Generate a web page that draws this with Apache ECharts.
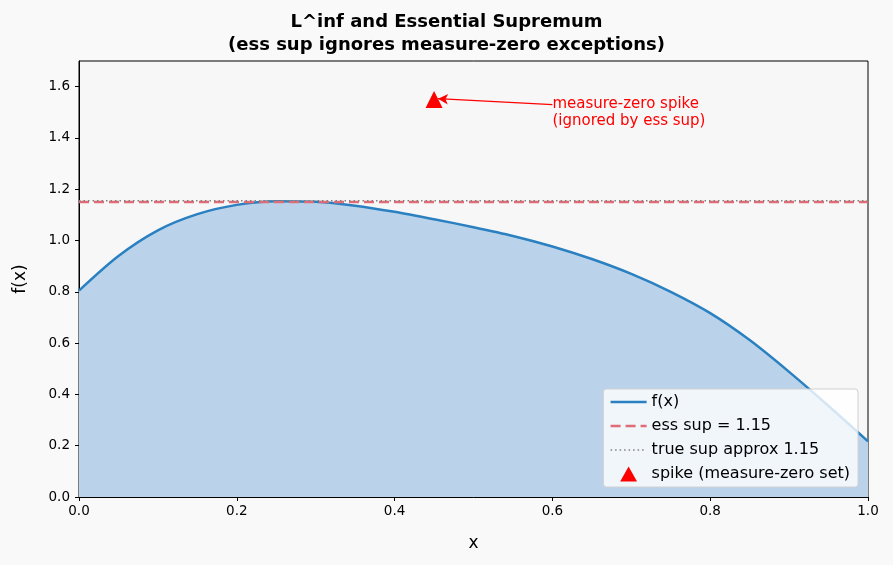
<!DOCTYPE html>
<html>
<head>
<meta charset="utf-8">
<script src="https://cdn.jsdelivr.net/npm/echarts@6/dist/echarts.min.js"></script>
<style>
  html, body { margin: 0; padding: 0; background: #f9f9f9; }
  #chart { width: 893px; height: 565px; }
</style>
</head>
<body>
<div id="chart"></div>
<script>
// values
const xs = [0, 0.05, 0.1, 0.15, 0.2, 0.25, 0.3, 0.35, 0.4, 0.45, 0.5,
            0.55, 0.6, 0.65, 0.7, 0.75, 0.8, 0.85, 0.9, 0.95, 1.0]
const fx = [0.805, 0.94, 1.04, 1.103, 1.139, 1.153, 1.151, 1.136, 1.112, 1.083, 1.052,
            1.018, 0.977, 0.928, 0.870, 0.800, 0.717, 0.612, 0.488, 0.355, 0.217]
const essSup = 1.15
const trueSup = 1.155
const spike = [0.45, 1.55]
const annoText = 'measure-zero spike\n(ignored by ess sup)'
const annoAt = [0.6, 1.5]
const arrowFrom = [0.6, 1.53]
const arrowTo = [0.455, 1.553]

const font = 'DejaVu Sans'
const chart = echarts.init(document.getElementById('chart'))

const option = {
  backgroundColor: '#f9f9f9',
  animation: false,
  textStyle: { fontFamily: font },
  title: {
    text: 'L^inf and Essential Supremum\n(ess sup ignores measure-zero exceptions)',
    left: 'center',
    top: 6,
    textStyle: { fontFamily: font, fontSize: 18, fontWeight: 'bold', color: '#000', lineHeight: 23 },
  },
  grid: {
    left: 79, right: 25, top: 61, bottom: 68,
    show: true, backgroundColor: '#f7f7f7', borderColor: '#000', borderWidth: 1,
  },
  legend: {
    orient: 'vertical',
    right: 35, bottom: 78,
    backgroundColor: 'rgba(255,255,255,0.8)',
    borderColor: '#d0d0d0', borderWidth: 1, borderRadius: 3,
    padding: [5, 8, 5, 6],
    itemGap: 8,
    itemWidth: 36, itemHeight: 15,
    textStyle: { fontFamily: font, fontSize: 16, color: '#000' },
    data: [
      { name: 'f(x)', itemStyle: { opacity: 0 }, lineStyle: { width: 2.5 } },
      { name: 'ess sup = 1.15', itemStyle: { opacity: 0 }, lineStyle: { width: 2.5 } },
      { name: 'true sup approx 1.15', itemStyle: { opacity: 0 }, lineStyle: { width: 1.4 } },
      { name: 'spike (measure-zero set)', icon: 'path://M0,16L9,0L18,16Z' },
    ],
  },
  xAxis: {
    type: 'value', min: 0, max: 1, interval: 0.2,
    name: 'x', nameLocation: 'middle', nameGap: 38,
    nameTextStyle: { fontFamily: font, fontSize: 17, color: '#000' },
    axisLine: { lineStyle: { color: '#000' } },
    axisTick: { show: true, length: 4, lineStyle: { color: '#000' } },
    axisLabel: { fontFamily: font, fontSize: 13.5, color: '#000', margin: 7, formatter: v => v.toFixed(1) },
    splitLine: { show: false },
  },
  yAxis: {
    type: 'value', min: 0, max: 1.7, interval: 0.2,
    name: 'f(x)', nameLocation: 'middle', nameGap: 50,
    nameTextStyle: { fontFamily: font, fontSize: 17, color: '#000' },
    axisLine: { show: true, lineStyle: { color: '#000' } },
    axisTick: { show: true, length: 4, lineStyle: { color: '#000' } },
    axisLabel: { fontFamily: font, fontSize: 13.5, color: '#000', margin: 9, showMaxLabel: false, formatter: v => v.toFixed(1) },
    splitLine: { show: false },
  },
  series: [
    {
      name: 'f(x)',
      type: 'line',
      smooth: 0.3,
      symbol: 'none',
      data: xs.map((x, i) => [x, fx[i]]),
      lineStyle: { color: '#2a80c0', width: 2.5 },
      itemStyle: { color: '#2a80c0' },
      areaStyle: { color: '#bad3ea', opacity: 1 },
      z: 2,
    },
    {
      name: 'ess sup = 1.15',
      type: 'line',
      symbol: 'none',
      data: [[0, essSup], [1, essSup]],
      lineStyle: { color: '#e16c76', width: 2.5, type: [10, 5] },
      itemStyle: { color: '#e16c76' },
      z: 3,
    },
    {
      name: 'true sup approx 1.15',
      type: 'line',
      symbol: 'none',
      data: [[0, trueSup], [1, trueSup]],
      lineStyle: { color: '#808080', width: 1.4, type: [1.5, 3] },
      itemStyle: { color: '#808080' },
      z: 4,
    },
    {
      name: 'spike (measure-zero set)',
      type: 'scatter',
      symbol: 'triangle',
      symbolSize: 17,
      data: [spike],
      itemStyle: { color: '#ff0000', opacity: 1 },
      z: 5,
      markLine: {
        silent: true,
        symbol: ['none', 'arrow'],
        symbolSize: [8, 10],
        lineStyle: { color: '#ff0000', width: 1.2, type: 'solid' },
        label: { show: false },
        data: [[{ coord: arrowFrom }, { coord: arrowTo }]],
      },
      markPoint: {
        silent: true,
        symbol: 'circle',
        symbolSize: 0,
        data: [{ coord: annoAt }],
        label: {
          show: true,
          position: 'right',
          distance: 0,
          formatter: annoText,
          color: '#ff0000',
          fontFamily: font,
          fontSize: 15,
          lineHeight: 17,
          align: 'left',
        },
      },
    },
  ],
}
chart.setOption(option)
</script>
</body>
</html>
